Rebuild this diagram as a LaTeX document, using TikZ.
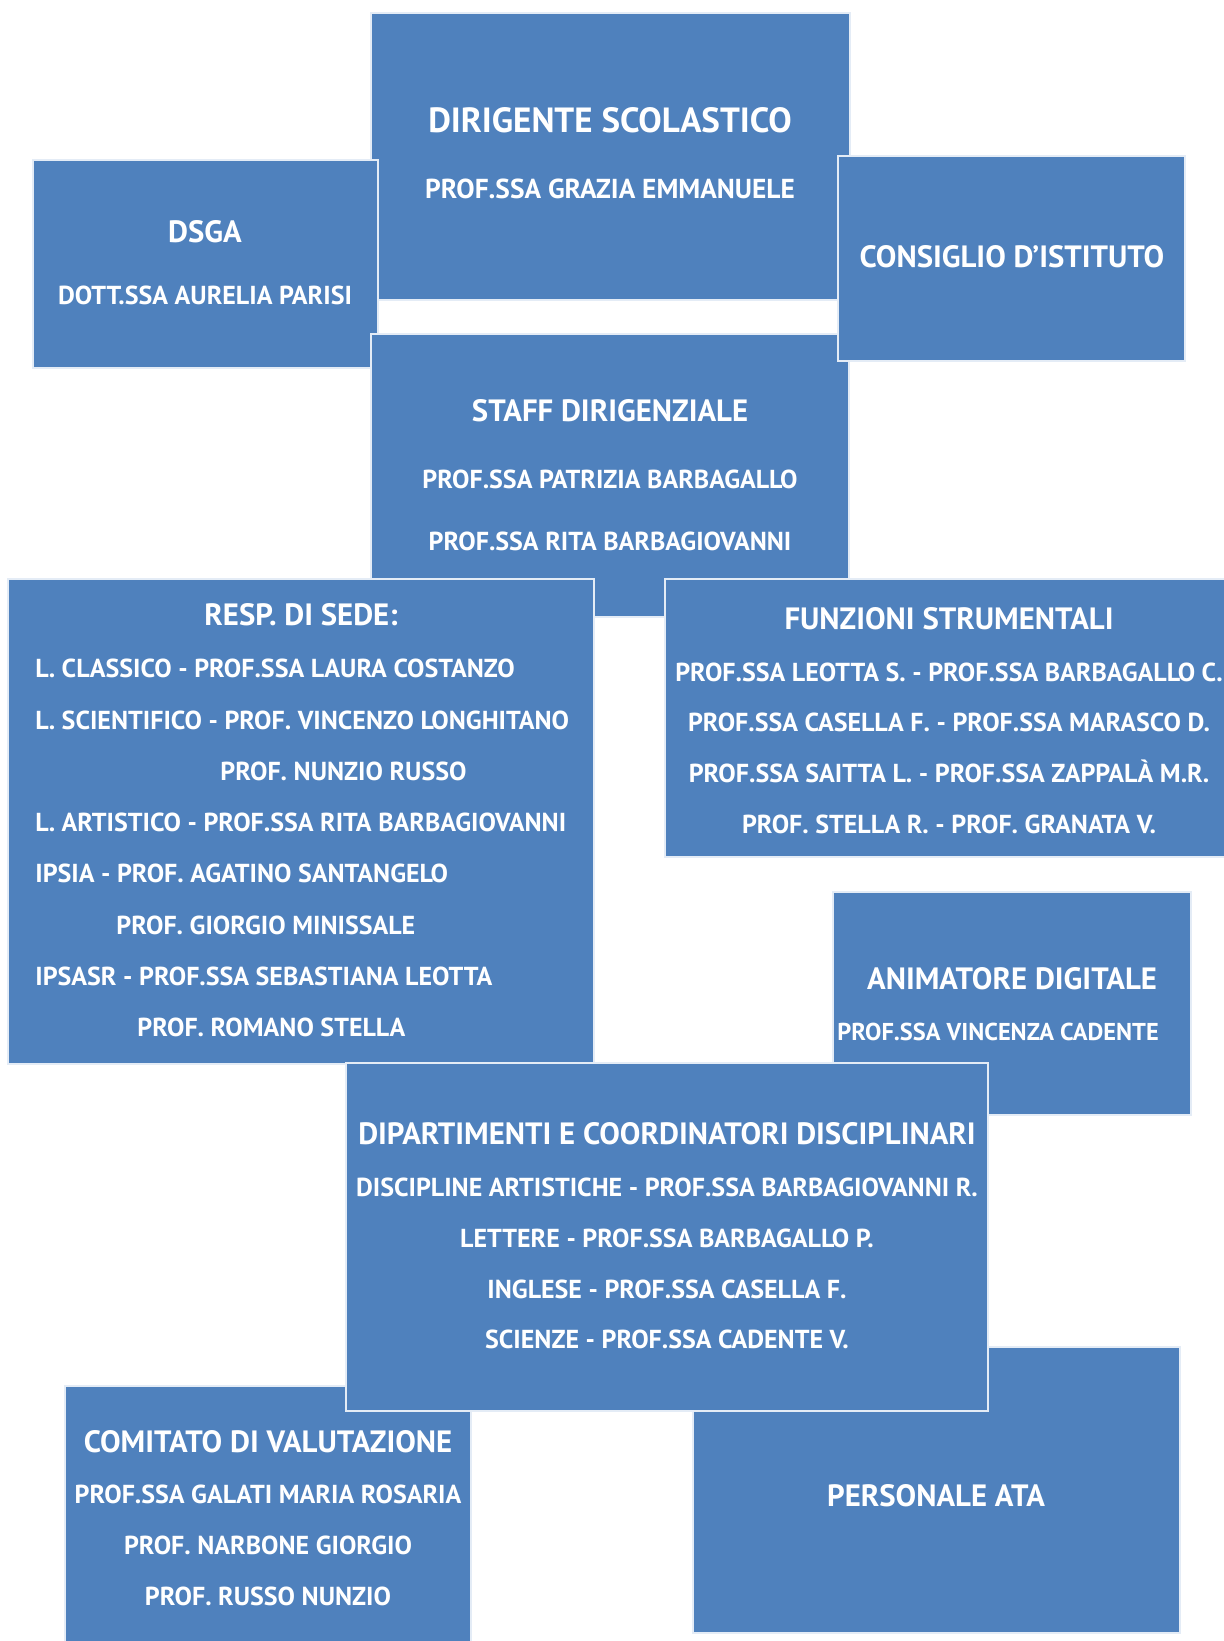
\documentclass[tikz,border=0pt]{standalone}
\usepackage{fontspec}
\setmainfont{PT Sans}
\definecolor{boxblue}{HTML}{4F81BD}
\definecolor{boxline}{HTML}{E4ECF6}
\tikzset{
  blk/.style={fill=boxblue, draw=boxline, line width=0.8pt},
  ttl/.style={text=white, font=\bfseries\fontsize{15.4}{18}\selectfont, anchor=base, inner sep=0pt, yshift=-1.5pt},
  nm/.style={text=white, font=\bfseries\fontsize{13}{15}\selectfont, anchor=base, inner sep=0pt, yshift=-1.5pt},
  nml/.style={nm, anchor=base west},
}
\begin{document}
\begin{tikzpicture}[x=0.5pt,y=-0.5pt]
\useasboundingbox (0,0) rectangle (1224,1641);
% top row
\draw[blk] (371,13) rectangle (850,300);
\node[ttl, font=\bfseries\fontsize{17.5}{20}\selectfont] (dirT) at (610,130) {DIRIGENTE SCOLASTICO};
\node[ttl, font=\bfseries\fontsize{13.7}{16}\selectfont] (dirN) at (610,196) {PROF.SSA GRAZIA EMMANUELE};
\draw[blk] (33,160) rectangle (378,368);
\node[ttl] (dsgaT) at (205,240) {DSGA};
\node[nm] (dsgaN) at (205,302) {DOTT.SSA AURELIA PARISI};
\draw[blk] (371,334) rectangle (849,617);
\node[ttl] (staffT) at (610,419) {STAFF DIRIGENZIALE};
\node[nm] (staffA) at (610,486) {PROF.SSA PATRIZIA BARBAGALLO};
\node[nm] (staffB) at (610,548) {PROF.SSA RITA BARBAGIOVANNI};
\draw[blk] (838,156) rectangle (1185,361);
\node[ttl] (consT) at (1012,265) {CONSIGLIO D’ISTITUTO};
% resp. di sede
\draw[blk] (8,579) rectangle (594,1064);
\node[ttl] (respT) at (301,622) {RESP. DI SEDE:};
\node[nml] (resp1) at (35,674) {L. CLASSICO - PROF.SSA LAURA COSTANZO};
\node[nml] (resp2) at (35,726) {L. SCIENTIFICO - PROF. VINCENZO LONGHITANO};
\node[nml] (resp3) at (220,777) {PROF. NUNZIO RUSSO};
\node[nml] (resp4) at (35,828) {L. ARTISTICO - PROF.SSA RITA BARBAGIOVANNI};
\node[nml] (resp5) at (35,879) {IPSIA - PROF. AGATINO SANTANGELO};
\node[nml] (resp6) at (116,931) {PROF. GIORGIO MINISSALE};
\node[nml] (resp7) at (35,982) {IPSASR - PROF.SSA SEBASTIANA LEOTTA};
\node[nml] (resp8) at (137,1033) {PROF. ROMANO STELLA};
% funzioni strumentali
\draw[blk] (665,579) rectangle (1240,857);
\node[ttl] (funzT) at (949,626) {FUNZIONI STRUMENTALI};
\node[nm] (funz1) at (949,678) {PROF.SSA LEOTTA S. - PROF.SSA BARBAGALLO C.};
\node[nm] (funz2) at (949,728) {PROF.SSA CASELLA F. - PROF.SSA MARASCO D.};
\node[nm] (funz3) at (949,779) {PROF.SSA SAITTA L. - PROF.SSA ZAPPALÀ M.R.};
\node[nm] (funz4) at (949,830) {PROF. STELLA R. - PROF. GRANATA V.};
% animatore
\draw[blk] (833,892) rectangle (1191,1115);
\node[ttl] (animT) at (1012,986) {ANIMATORE DIGITALE};
\node[nm, font=\bfseries\fontsize{12.2}{14}\selectfont] (animN) at (998,1037) {PROF.SSA VINCENZA CADENTE};
% bottom row
\draw[blk] (693,1347) rectangle (1180,1633);
\node[ttl] (persT) at (936,1503) {PERSONALE ATA};
\draw[blk] (65,1386) rectangle (471,1660);
\node[ttl] (comT) at (268,1449) {COMITATO DI VALUTAZIONE};
\node[nm] (com1) at (268,1500) {PROF.SSA GALATI MARIA ROSARIA};
\node[nm] (com2) at (268,1551) {PROF. NARBONE GIORGIO};
\node[nm] (com3) at (268,1602) {PROF. RUSSO NUNZIO};
% dipartimenti
\draw[blk] (346,1063) rectangle (988,1411);
\node[ttl] (dipT) at (667,1141) {DIPARTIMENTI E COORDINATORI DISCIPLINARI};
\node[nm] (dip1) at (667,1193) {DISCIPLINE ARTISTICHE - PROF.SSA BARBAGIOVANNI R.};
\node[nm] (dip2) at (667,1244) {LETTERE - PROF.SSA BARBAGALLO P.};
\node[nm] (dip3) at (667,1295) {INGLESE - PROF.SSA CASELLA F.};
\node[nm] (dip4) at (667,1345) {SCIENZE - PROF.SSA CADENTE V.};
\end{tikzpicture}
\end{document}
